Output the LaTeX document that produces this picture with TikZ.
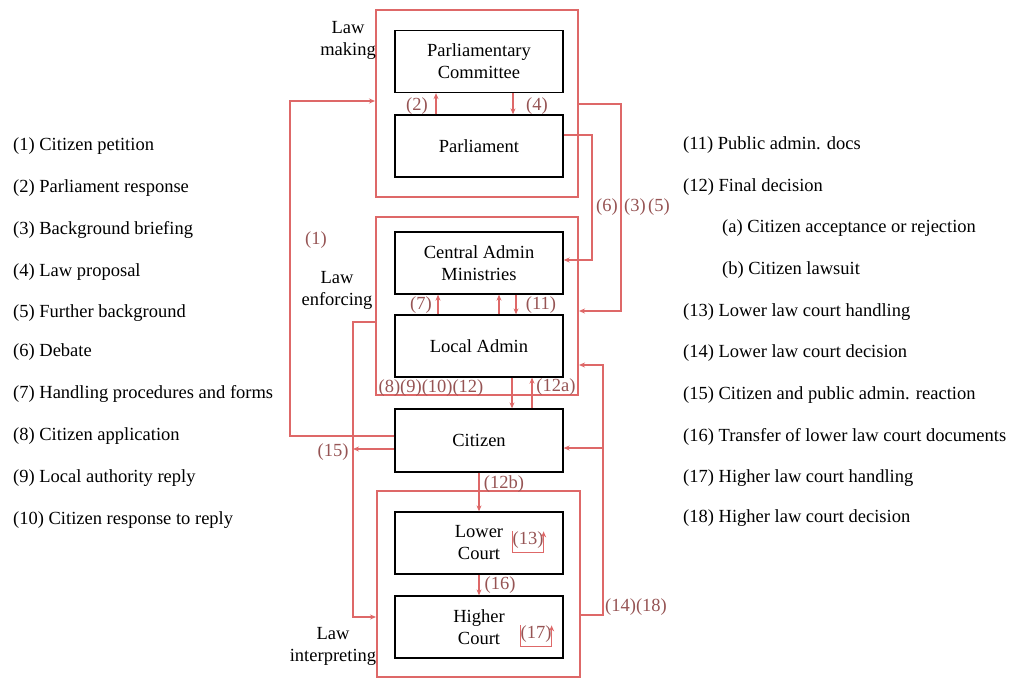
\documentclass[tikz,border=0pt]{standalone}
\usepackage{fontspec}
\setmainfont{Liberation Serif}
\newfontfamily\diagfont{Liberation Serif}
\usetikzlibrary{arrows.meta}
\definecolor{flowred}{RGB}{222,104,104}
\definecolor{tagcol}{RGB}{150,84,84}
\begin{document}
\begin{tikzpicture}[x=1pt,y=-1pt,
  every node/.style={font=\diagfont\fontsize{18.5}{22}\selectfont},
  unit/.style={draw=black,line width=1.3pt,minimum width=168pt,minimum height=62pt,align=center,inner sep=0pt},
  stage/.style={draw=flowred,line width=2pt,inner sep=0pt},
  flow/.style={draw=flowred,line width=1.5pt,-{Stealth[length=6pt,width=5pt]}},
  tag/.style={text=tagcol,inner sep=0pt},
  legend/.style={anchor=west,inner sep=0pt},
  phase/.style={align=center,inner sep=0pt}]
\useasboundingbox (0,0) rectangle (1019,680);

% stage frames
\node[stage,minimum width=202pt,minimum height=187pt] (making) at (477,103.5) {};
\node[stage,minimum width=202pt,minimum height=178pt] (enforcing) at (477,306) {};
\node[stage,minimum width=203pt,minimum height=186pt] (interpreting) at (478.5,584) {};

% actors
\node[unit] (pc) at (479,61.5) {Parliamentary\\Committee};
\node[unit] (parl) at (479,146) {Parliament};
\node[unit] (cam) at (479,263) {Central Admin\\Ministries};
\node[unit] (local) at (479,346) {Local Admin};
\node[unit,minimum height=63pt] (citizen) at (479,440.5) {Citizen};
\node[unit] (lower) at (479,543) {Lower\\Court};
\node[unit] (higher) at (479,627) {Higher\\Court};

% stage names
\node[phase] (tmaking) at (348,40) {Law\\making};
\node[phase] (tenforcing) at (337,290) {Law\\enforcing};
\node[phase] (tinterp) at (333,646) {Law\\interpreting};

% (1) citizen petition to parliament
\coordinate (p1) at (290,101);
\draw[flow] ([yshift=4.5pt]citizen.west) -| (p1) -- (making.west |- p1);
\node[tag] (t1) at (316,240) {(1)};

% (2) and (4)
\draw[flow] (parl.north -| 436,0) -- (pc.south -| 436,0);
\draw[flow] (pc.south -| 513,0) -- (parl.north -| 513,0);
\node[tag] (t2) at (417,106) {(2)};
\node[tag] (t4) at (537,106) {(4)};

% (6) debate to ministries
\coordinate (p6) at (592,260);
\draw[flow] ([yshift=11pt]parl.east) -| (p6) -- (cam.east |- p6);
% (3) (5) background to administration
\coordinate (p3) at (621,311);
\draw[flow] (making.east |- 0,104) -| (p3) -- (enforcing.east |- p3);
\node[tag] (t6) at (607,207) {(6)};
\node[tag] (t3) at (635,207) {(3)};
\node[tag] (t5) at (659,207) {(5)};

% (7) and (11)
\draw[flow] (local.north -| 438,0) -- (cam.south -| 438,0);
\draw[flow] (local.north -| 499,0) -- (cam.south -| 499,0);
\draw[flow] (cam.south -| 516,0) -- (local.north -| 516,0);
\node[tag] (t7) at (421,305) {(7)};
\node[tag] (t11) at (541,305) {(11)};

% (8)-(12) between local admin and citizen
\node[tag] (t8) at (431,388) {(8)(9)(10)(12)};
\draw[flow] (local.south -| 512,0) -- (citizen.north -| 512,0);
\draw[flow] (citizen.north -| 532,0) -- (local.south -| 532,0);
\node[tag] (t12a) at (556,387) {(12a)};

% (15) reaction, enforcing to interpreting
\coordinate (p15) at (353,322);
\coordinate (p15b) at (353,617);
\draw[flow] (enforcing.west |- p15) -- (p15) -- (p15b) -- (interpreting.west |- p15b);
\draw[flow] ([yshift=-8.5pt]citizen.west) -- (p15 |- 0,449);
\node[tag] (t15) at (333,452) {(15)};

% (12b) and (16)
\draw[flow] (citizen.south -| 479,0) -- (lower.north -| 479,0);
\draw[flow] (lower.south -| 479,0) -- (higher.north -| 479,0);
\node[tag] (t12b) at (504,484) {(12b)};
\node[tag] (t16) at (500,585) {(16)};

% (13) and (17) court handling loops
\node[tag] (t13) at (528,540) {(13)};
\draw[flow,line width=1.2pt] (t13.north west) -- ([yshift=-4pt]t13.south west) -- ([yshift=-4pt]t13.south east) -- (t13.north east);
\node[tag] (t17) at (536,634) {(17)};
\draw[flow,line width=1.2pt] (t17.north west) -- ([yshift=-4pt]t17.south west) -- ([yshift=-4pt]t17.south east) -- (t17.north east);

% (14) (18) decisions back
\coordinate (p14) at (603,365);
\coordinate (p14c) at (603,448);
\draw[flow] (interpreting.east |- 0,615) -| (p14) -- (enforcing.east |- p14);
\draw[flow] (p14c) -- (citizen.east |- p14c);
\node[tag,anchor=west] (t14) at (605,607) {(14)(18)};

% legend, left column
\node[legend] (l1) at (13,146) {(1) Citizen petition};
\node[legend] (l2) at (13,188) {(2) Parliament response};
\node[legend] (l3) at (13,230) {(3) Background briefing};
\node[legend] (l4) at (13,272) {(4) Law proposal};
\node[legend] (l5) at (13,313) {(5) Further background};
\node[legend] (l6) at (13,352) {(6) Debate};
\node[legend] (l7) at (13,394) {(7) Handling procedures and forms};
\node[legend] (l8) at (13,436) {(8) Citizen application};
\node[legend] (l9) at (13,478) {(9) Local authority reply};
\node[legend] (l10) at (13,520) {(10) Citizen response to reply};

% legend, right column
\node[legend] (l11) at (683,145) {(11) Public admin. docs};
\node[legend] (l12) at (683,187) {(12) Final decision};
\node[legend] (l12a) at (722,228) {(a) Citizen acceptance or rejection};
\node[legend] (l12b) at (722,270) {(b) Citizen lawsuit};
\node[legend] (l13) at (683,312) {(13) Lower law court handling};
\node[legend] (l14) at (683,353) {(14) Lower law court decision};
\node[legend] (l15) at (683,395) {(15) Citizen and public admin. reaction};
\node[legend] (l16) at (683,437) {(16) Transfer of lower law court documents};
\node[legend] (l17) at (683,478) {(17) Higher law court handling};
\node[legend] (l18) at (683,518) {(18) Higher law court decision};
\end{tikzpicture}
\end{document}
